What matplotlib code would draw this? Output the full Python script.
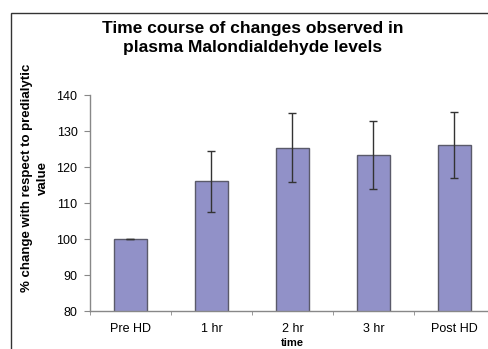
import matplotlib
matplotlib.use("Agg")
import matplotlib.pyplot as plt
from matplotlib.patches import Rectangle
import numpy as np

categories = ["Pre HD", "1 hr", "2 hr", "3 hr", "Post HD"]
values = [100, 116, 125.4, 123.3, 126.1]
errors = [0, 8.5, 9.5, 9.5, 9.1]
yticks = [80, 90, 100, 110, 120, 130, 140]

plt.rcParams['font.family'] = ['Liberation Sans', 'DejaVu Sans']

fig = plt.figure(figsize=(4.89, 3.49), dpi=100)
# outer chart-area frame (only left and top visible in the crop)
fig.patches.append(Rectangle((11/489, -0.1), 1.2, (1 - 13/349) + 0.1,
                             transform=fig.transFigure, fill=False,
                             edgecolor='#333333', linewidth=1.0))

ax = fig.add_axes([90/489, 1 - 311/349, 405/489, (311 - 95)/349])
x = np.arange(len(categories))
ax.bar(x, values, width=0.4, color='#9191c8', edgecolor='#5a5a6a', linewidth=1.0,
       bottom=0, zorder=2)
ax.errorbar(x, values, yerr=errors, fmt='none', ecolor='#333333', elinewidth=1.0,
            capsize=3, capthick=1.0, zorder=3)
ax.set_ylim(80, 140)
ax.set_xlim(-0.5, len(categories) - 0.5)
ax.set_yticks(yticks)
ax.set_yticklabels([str(t) for t in yticks], fontsize=9)
ax.set_xticks(x)
ax.set_xticklabels(categories, fontsize=9)
ax.tick_params(axis='x', length=0, pad=9)
ax.set_xticks(np.arange(-0.5, len(categories), 1), minor=True)
ax.tick_params(axis='x', which='minor', length=3, color='#888888', direction='out')
ax.tick_params(axis='y', length=4, color='#888888', pad=5)
for s in ['top', 'right']:
    ax.spines[s].set_visible(False)
for s in ['left', 'bottom']:
    ax.spines[s].set_color('#888888')
    ax.spines[s].set_linewidth(1.0)

fig.text(292.5/489, 1/349, "time", ha='center', va='bottom',
         fontsize=8, fontweight='bold')
fig.text(35/489, 1 - 178/349, "% change with respect to predialytic\nvalue",
         rotation=90, ha='center', va='center', fontsize=9.5,
         fontweight='bold', linespacing=1.5)
fig.text(253/489, 1 - 38/349,
         "Time course of changes observed in\nplasma Malondialdehyde levels",
         ha='center', va='center', fontsize=12.5, fontweight='bold',
         linespacing=1.4)

fig.savefig("out.png", dpi=100)
